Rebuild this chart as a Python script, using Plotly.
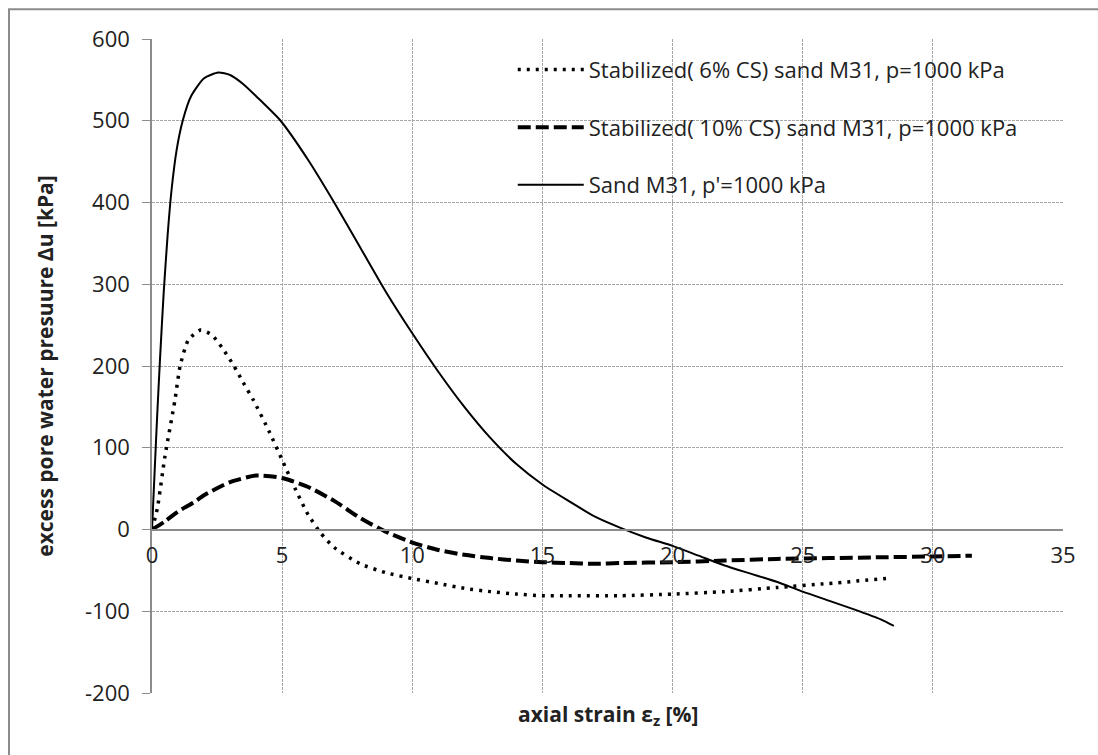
import plotly.graph_objects as go

# ---- data ----
sand_x = [0, 0.1, 0.2, 0.31, 0.45, 0.6, 0.75, 0.95, 1.18, 1.5, 2.0, 2.55, 3.0, 3.5, 4.0, 4.94, 6, 7, 8, 9, 10,
          11, 12, 13, 14, 15, 16, 17, 18, 19, 20, 21, 22, 23, 24, 25, 26, 27, 28, 28.5]
sand_y = [0, 70, 140, 210, 290, 360, 415, 465, 500, 530, 552, 559, 556, 545, 530, 500, 452, 400, 345, 290, 240,
          193, 150, 112, 80, 55, 35, 16, 2, -10, -20, -32, -44, -54, -64, -76, -87, -98, -110, -118]

cs6_x = [0, 0.2, 0.5, 0.88, 1.08, 1.4, 1.87, 2.3, 2.7, 3.15, 3.5, 3.9, 4.5, 5.0, 5.5, 6.0, 6.5, 7, 8, 9,
         10, 11, 12, 13, 14, 15, 16, 18, 20, 22, 24, 26, 28.2]
cs6_y = [0, 25, 90, 158, 200, 232, 244, 238, 222, 200, 180, 158, 120, 85, 50, 18, -5, -22, -42, -53,
         -60, -66, -72, -76, -79, -81, -81, -81, -79, -76, -71, -66, -60]

cs10_x = [0, 0.5, 1, 1.6, 2, 3, 4, 5, 6, 7, 8, 9, 10, 11, 12, 13, 14, 15, 16, 17, 18, 20, 22, 24, 26,
          28, 30, 31.5]
cs10_y = [0, 10, 22, 33, 42, 58, 66, 63, 52, 35, 14, -3, -16, -25, -31, -35, -38, -40, -41, -42, -41,
          -40, -38, -36, -35, -34, -33, -32]

names = ["Stabilized( 6% CS) sand M31, p=1000 kPa",
         "Stabilized( 10% CS) sand M31, p=1000 kPa",
         "Sand M31, p'=1000 kPa"]

x_ticks = [0, 5, 10, 15, 20, 25, 30, 35]
y_ticks = [-200, -100, 0, 100, 200, 300, 400, 500, 600]

FONT = "Open Sans"
TXT = "#222222"

fig = go.Figure()
fig.add_trace(go.Scatter(x=cs6_x, y=cs6_y, mode="lines", name=names[0], legendgroup="a",
                         line=dict(color="black", width=3.5, dash="3px,6px", shape="spline", smoothing=0.6)))
fig.add_trace(go.Scatter(x=cs10_x, y=cs10_y, mode="lines", name=names[1], legendgroup="b",
                         line=dict(color="black", width=4, dash="13px,5px", shape="spline", smoothing=0.6)))
fig.add_trace(go.Scatter(x=sand_x, y=sand_y, mode="lines", name=names[2], legendgroup="c",
                         line=dict(color="black", width=2, shape="spline", smoothing=0.6)))

fig.update_layout(
    width=1098, height=755,
    margin=dict(l=152, r=35, t=39, b=62),
    paper_bgcolor="white", plot_bgcolor="white",
    font=dict(family=FONT, size=22, color=TXT),
    showlegend=True,
    legend=dict(x=0.396, y=0.985, xanchor="left", yanchor="top",
                bgcolor="rgba(0,0,0,0)", borderwidth=0,
                font=dict(family=FONT, size=22, color=TXT),
                tracegroupgap=26, itemwidth=66),
    xaxis=dict(range=[0, 35], tickvals=x_ticks, ticktext=[str(v) for v in x_ticks],
               anchor="free", position=0.25,
               showline=True, linecolor="#8c8c8c", linewidth=1.5,
               showgrid=True, gridcolor="#a6a6a6", griddash="3px,1px", gridwidth=1,
               zeroline=False, ticks="", ticklabelstandoff=6,
               tickfont=dict(size=22, family=FONT, color=TXT)),
    yaxis=dict(range=[-200, 600], tickvals=y_ticks, ticktext=[str(v) for v in y_ticks],
               showline=True, linecolor="#8c8c8c", linewidth=1.5,
               showgrid=True, gridcolor="#a6a6a6", griddash="3px,1px", gridwidth=1,
               zeroline=False, ticks="outside", ticklen=8, tickcolor="#8c8c8c",
               ticklabelstandoff=8,
               tickfont=dict(size=22, family=FONT, color=TXT),
               title=dict(text="<b>excess pore water presuure Δu [kPa]</b>",
                          font=dict(size=21, family=FONT, color=TXT), standoff=26)),
)

fig.add_annotation(text="<b>axial strain ε<sub>z</sub> [%]</b>", xref="paper", yref="paper",
                   x=0.5, y=-0.034, xanchor="center", yanchor="middle", showarrow=False,
                   font=dict(size=21, family=FONT, color=TXT))

# outer chart border (left and top edges visible inside the picture)
fig.add_shape(type="rect", xref="paper", yref="paper",
              x0=-143/911, x1=1.08, y0=-0.2, y1=1.0 + 29.7/654,
              line=dict(color="#8c8c8c", width=2), fillcolor="rgba(0,0,0,0)", layer="below")

fig.write_html("out.html")
